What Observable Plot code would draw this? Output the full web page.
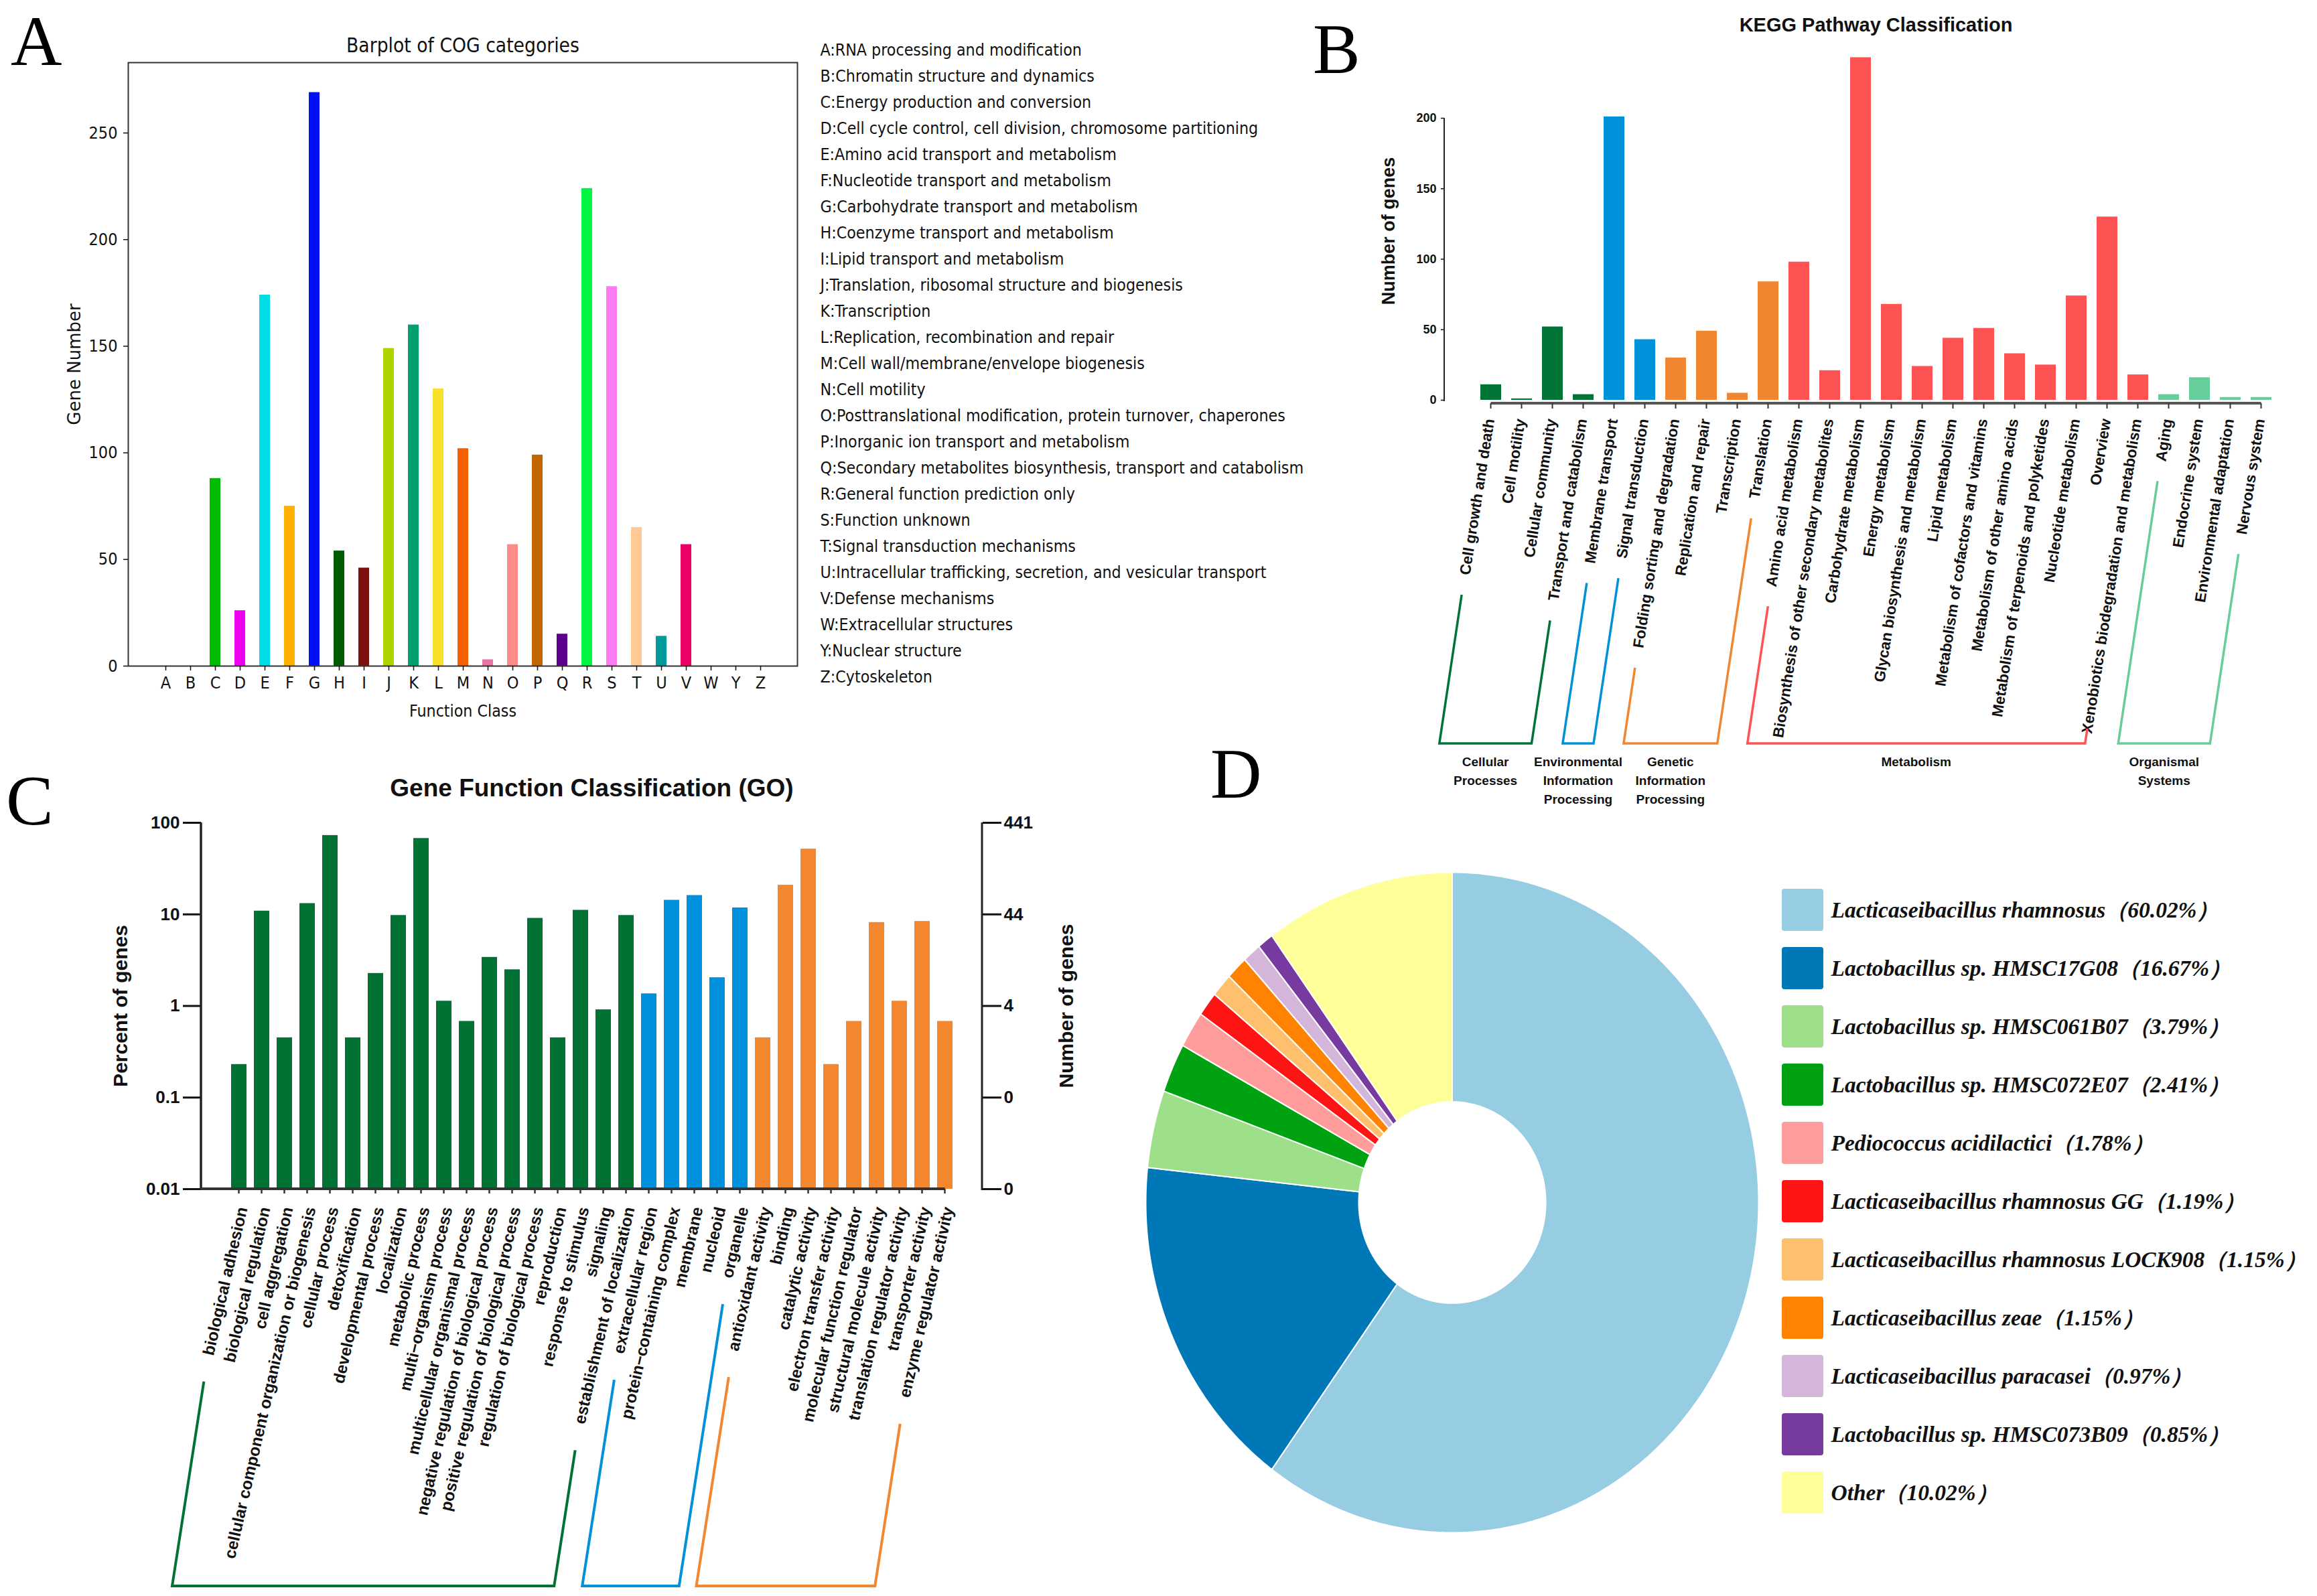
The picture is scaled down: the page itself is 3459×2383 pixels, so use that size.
<!DOCTYPE html>
<html>
<head>
<meta charset="utf-8">
<title>Genome annotation figure</title>
<script src="https://cdn.jsdelivr.net/npm/d3@7"></script>
<script src="https://cdn.jsdelivr.net/npm/@observablehq/plot@0.6"></script>
<style>
  html, body { margin: 0; padding: 0; background: #fff; }
  #root { position: relative; width: 3459px; height: 2383px; overflow: hidden; background: #fff; }
  .panel { position: absolute; }
</style>
</head>
<body>
<div id="root"></div>
<script>
// ================= DATA =================
// Panel A: COG
const cogLetters = ["A","B","C","D","E","F","G","H","I","J","K","L","M","N","O","P","Q","R","S","T","U","V","W","Y","Z"];
const cogCounts  = [0,0,88,26,174,75,269,54,46,149,160,130,102,3,57,99,15,224,178,65,14,57,0,0,0];
const cogColors  = ["#999999","#999999","#00BB00","#EE00EE","#00DDE6","#FFB000","#0010F2","#005E00","#7F1010","#AED400",
                    "#00A070","#F7E02A","#F26000","#E874A8","#FF8A8A","#C46600","#5C0090","#00F544","#FF7AF5","#FFCA94",
                    "#009A9A","#EC0068","#999999","#999999","#999999"];
const cogYTicks  = [0,50,100,150,200,250];
const cogDescriptions = [
  "A:RNA processing and modification",
  "B:Chromatin structure and dynamics",
  "C:Energy production and conversion",
  "D:Cell cycle control, cell division, chromosome partitioning",
  "E:Amino acid transport and metabolism",
  "F:Nucleotide transport and metabolism",
  "G:Carbohydrate transport and metabolism",
  "H:Coenzyme transport and metabolism",
  "I:Lipid transport and metabolism",
  "J:Translation, ribosomal structure and biogenesis",
  "K:Transcription",
  "L:Replication, recombination and repair",
  "M:Cell wall/membrane/envelope biogenesis",
  "N:Cell motility",
  "O:Posttranslational modification, protein turnover, chaperones",
  "P:Inorganic ion transport and metabolism",
  "Q:Secondary metabolites biosynthesis, transport and catabolism",
  "R:General function prediction only",
  "S:Function unknown",
  "T:Signal transduction mechanisms",
  "U:Intracellular trafficking, secretion, and vesicular transport",
  "V:Defense mechanisms",
  "W:Extracellular structures",
  "Y:Nuclear structure",
  "Z:Cytoskeleton"
];

// Panel B: KEGG
const keggPathways = [
  "Cell growth and death","Cell motility","Cellular community","Transport and catabolism",
  "Membrane transport","Signal transduction",
  "Folding sorting and degradation","Replication and repair","Transcription","Translation",
  "Amino acid metabolism","Biosynthesis of other secondary metabolites","Carbohydrate metabolism","Energy metabolism",
  "Glycan biosynthesis and metabolism","Lipid metabolism","Metabolism of cofactors and vitamins","Metabolism of other amino acids",
  "Metabolism of terpenoids and polyketides","Nucleotide metabolism","Overview","Xenobiotics biodegradation and metabolism",
  "Aging","Endocrine system","Environmental adaptation","Nervous system"
];
const keggCounts = [11,1,52,4,201,43,30,49,5,84,98,21,243,68,24,44,51,33,25,74,130,18,4,16,2,2];
const keggGroupNames = ["Cellular Processes","Environmental Information Processing","Genetic Information Processing","Metabolism","Organismal Systems"];
const keggGroupLabels = ["Cellular\nProcesses","Environmental\nInformation\nProcessing","Genetic\nInformation\nProcessing","Metabolism","Organismal\nSystems"];
const keggGroupOf = [0,0,0,0,1,1,2,2,2,2,3,3,3,3,3,3,3,3,3,3,3,3,4,4,4,4].map(i => keggGroupNames[i]);
const keggColors = ["#007437","#0091DB","#F18631","#FF5252","#66CD9B"];
const keggYTicks = [0,50,100,150,200];

// Panel C: GO
const goTerms = [
  "biological adhesion","biological regulation","cell aggregation","cellular component organization or biogenesis",
  "cellular process","detoxification","developmental process","localization","metabolic process",
  "multi\u2212organism process","multicellular organismal process","negative regulation of biological process",
  "positive regulation of biological process","regulation of biological process","reproduction","response to stimulus",
  "signaling","establishment of localization",
  "extracellular region","protein\u2212containing complex","membrane","nucleoid","organelle",
  "antioxidant activity","binding","catalytic activity","electron transfer activity","molecular function regulator",
  "structural molecule activity","translation regulator activity","transporter activity","enzyme regulator activity"
];
const goOntologies = ["biological process","cellular component","molecular function"];
const goOntologyOf = [0,0,0,0,0,0,0,0,0,0,0,0,0,0,0,0,0,0,1,1,1,1,1,2,2,2,2,2,2,2,2,2].map(i => goOntologies[i]);
const goPercent = [0.23,10.88,0.45,13.15,72.79,0.45,2.27,9.75,67.57,1.13,0.68,3.40,2.49,9.07,0.45,11.11,0.91,9.75,
                   1.36,14.29,16.10,2.04,11.79,0.45,20.86,51.70,0.23,0.68,8.16,1.13,8.39,0.68];
const goColors = ["#007334","#0091DC","#F3872F"];
const goLeftTicks = [0.01,0.1,1,10,100];
const goLeftTickLabels = ["0.01","0.1","1","10","100"];
const goRightTickLabels = ["0","0","4","44","441"];

// Panel D: species
const species = [
  "Lacticaseibacillus rhamnosus","Lactobacillus sp. HMSC17G08","Lactobacillus sp. HMSC061B07",
  "Lactobacillus sp. HMSC072E07","Pediococcus acidilactici","Lacticaseibacillus rhamnosus GG",
  "Lacticaseibacillus rhamnosus LOCK908","Lacticaseibacillus zeae","Lacticaseibacillus paracasei",
  "Lactobacillus sp. HMSC073B09","Other"
];
const speciesPercent = [60.02,16.67,3.79,2.41,1.78,1.19,1.15,1.15,0.97,0.85,10.02];
const speciesColors = ["#96CDE3","#0078B8","#9EE08A","#00A212","#FF9C9C","#FF1414","#FFC06E","#FF8200","#D4B6DA","#773A9E","#FFFF99"];

// ================= HELPERS =================
const SANS = "'Liberation Sans', Arial, sans-serif";
const NARROW = "'Liberation Sans Narrow', 'Liberation Sans', Arial, sans-serif";
const DEJAVU = "'DejaVu Sans', sans-serif";
const DEJAVU_C = "'DejaVu Sans Condensed', 'DejaVu Sans', sans-serif";
const SERIF = "'Liberation Serif', 'Times New Roman', serif";
const root = document.getElementById("root");
const MC = document.createElement("canvas").getContext("2d");
function textWidth(text, family, size, weight = "normal", style = "normal") {
  MC.font = `${style} ${weight} ${size}px ${family}`;
  return MC.measureText(text).width;
}
// font size that gives a sample text the width it has in the reference
function fitSize(sample, family, target, weight = "normal", style = "normal") {
  return 100 * target / textWidth(sample, family, 100, weight, style);
}
function svgStyle(font) {
  return `background: transparent; overflow: visible; max-width: none; font-family: ${font}; color: #111;`;
}
function place(node, left, top, width, height) {
  const div = document.createElement("div");
  div.className = "panel";
  div.style.left = left + "px"; div.style.top = top + "px";
  div.style.width = width + "px"; div.style.height = height + "px";
  div.appendChild(node);
  root.appendChild(div);
}
const center = (scale, v) => scale(v) + (typeof scale.bandwidth === "function" ? scale.bandwidth() / 2 : 0);

const aLegendSize = Math.min(26, fitSize(cogDescriptions[16], DEJAVU_C, 722));
const aTitleSize  = Math.min(32, fitSize("Barplot of COG categories", DEJAVU_C, 348));
const aXLabelSize = Math.min(28, fitSize("Function Class", DEJAVU_C, 160));
const aTickSize   = Math.min(28, fitSize("250", DEJAVU_C, 43));
const bLabelSize  = Math.min(29, fitSize(keggPathways[0], NARROW, 236, "bold"));
const cLabelSize  = Math.min(31, fitSize(goTerms[17], NARROW, 332, "bold"));
let dLegendSize   = fitSize(species[0], SERIF, 423, "bold", "italic");
{
  const longest = `${species[6]}\uFF08${speciesPercent[6].toFixed(2)}%\uFF09`;
  const w = textWidth(longest, SERIF, dLegendSize, "bold", "italic");
  if (w > 712) dLegendSize *= 712 / w;
}

// brackets under rotated category labels
function bracketDecor(cfg) {
  return (index, scales, values, dims) => {
    const x = scales.x;
    const y0 = dims.height - dims.marginBottom;
    const ctx = document.createElement("canvas").getContext("2d");
    ctx.font = cfg.labelFont;
    const a = cfg.angle * Math.PI / 180;
    const g = d3.create("svg:g");
    const leg = (name) => {
      const L = ctx.measureText(name).width;
      const sx = center(x, name) + cfg.dx - L * Math.cos(a);
      const sy = y0 + cfg.dy + L * Math.sin(a);
      const ty = Math.min(sy + cfg.gap, cfg.bottom - cfg.minLeg);
      const tx = sx - cfg.slope * (ty - sy);
      const bx = tx - cfg.slope * (cfg.bottom - ty);
      return {top: [tx, ty], bot: [bx, cfg.bottom]};
    };
    cfg.groups.forEach((grp, gi) => {
      const members = cfg.cats.filter((c, i) => cfg.groupOf[i] === grp);
      const l = leg(members[0]), r = leg(members[members.length - 1]);
      g.append("path")
        .attr("d", d3.line()([l.top, l.bot, r.bot, r.top]))
        .attr("fill", "none").attr("stroke", cfg.colors[gi])
        .attr("stroke-width", cfg.strokeWidth).attr("stroke-linejoin", "miter");
      if (cfg.groupLabels) {
        const cxm = (l.bot[0] + r.bot[0]) / 2;
        cfg.groupLabels[gi].split("\n").forEach((line, k) => {
          g.append("text").attr("x", cxm).attr("y", cfg.bottom + cfg.labelOffset + k * cfg.lineGap)
            .attr("dy", "0.35em").attr("text-anchor", "middle")
            .attr("font-family", SANS)
            .attr("font-size", cfg.groupFontSize).attr("font-weight", "bold").attr("fill", "#111")
            .text(line);
        });
      }
    });
    return g.node();
  };
}

// ================= PANEL A =================
const cogData = cogLetters.map((letter, i) => ({letter, count: cogCounts[i]}));
const plotA = Plot.plot({
  width: 1210, height: 1090,
  marginTop: 93, marginRight: 20, marginBottom: 96, marginLeft: 191,
  style: svgStyle(DEJAVU_C),
  x: {type: "band", domain: cogLetters, paddingInner: 0.57, paddingOuter: 1.18, label: null},
  y: {domain: [0, 283], label: null},
  color: {domain: cogLetters, range: cogColors},
  marks: [
    Plot.barY(cogData, {x: "letter", y: "count", fill: "letter"}),
    Plot.frame({stroke: "#333", strokeWidth: 2}),
    Plot.axisY({ticks: cogYTicks, tickSize: 7, tickPadding: 9, fontSize: aTickSize, strokeWidth: 1.5, label: null}),
    Plot.axisX({tickSize: 7, tickPadding: 9, fontSize: aTickSize, strokeWidth: 1.5, label: null}),
    Plot.text(["Barplot of COG categories"], {text: d => d, frameAnchor: "top", dy: -25, fontSize: aTitleSize, textAnchor: "middle", lineAnchor: "middle"}),
    Plot.text(["Function Class"], {text: d => d, frameAnchor: "bottom", dy: 68, fontSize: aXLabelSize, textAnchor: "middle", lineAnchor: "middle"}),
    Plot.text(["Gene Number"], {text: d => d, frameAnchor: "left", dx: -80, rotate: -90, fontFamily: DEJAVU, fontSize: 26, textAnchor: "middle", lineAnchor: "middle"})
  ]
});
place(plotA, 0, 0, 1210, 1090);

const plotALegend = Plot.plot({
  width: 800, height: 1090,
  marginTop: 66, marginRight: 0, marginBottom: 71, marginLeft: 9,
  style: svgStyle(DEJAVU_C),
  y: {type: "point", domain: cogDescriptions, padding: 0, axis: null},
  marks: [
    Plot.text(cogDescriptions, {y: d => d, text: d => d, frameAnchor: "left", textAnchor: "start", lineAnchor: "middle", fontSize: aLegendSize, fill: "#111"})
  ]
});
place(plotALegend, 1215, 0, 800, 1090);

// ================= PANEL B =================
const keggData = keggPathways.map((pathway, i) => ({pathway, count: keggCounts[i], group: keggGroupOf[i]}));
const keggLabelFont = `bold ${bLabelSize}px ${NARROW}`;
const keggDecor = (index, scales, values, dims) => {
  const {x, y} = scales;
  const g = d3.create("svg:g");
  const left = dims.marginLeft;
  g.append("line").attr("x1", left).attr("x2", left).attr("y1", y(0) + 2).attr("y2", y(keggYTicks[keggYTicks.length - 1]))
    .attr("stroke", "#222").attr("stroke-width", 2);
  const xa = y(0) + 5;
  const c0 = center(x, keggPathways[0]), c1 = center(x, keggPathways[keggPathways.length - 1]);
  g.append("line").attr("x1", c0).attr("x2", c1).attr("y1", xa).attr("y2", xa).attr("stroke", "#555").attr("stroke-width", 4);
  keggPathways.forEach(p => {
    const cx = center(x, p);
    g.append("line").attr("x1", cx).attr("x2", cx).attr("y1", xa).attr("y2", xa + 8).attr("stroke", "#333").attr("stroke-width", 2);
  });
  return g.node();
};
const plotB = Plot.plot({
  width: 1499, height: 1200,
  marginTop: 176, marginRight: 15, marginBottom: 603, marginLeft: 196,
  style: svgStyle(SANS),
  x: {type: "band", domain: keggPathways, paddingInner: 0.33, paddingOuter: 1.069, axis: null},
  y: {domain: [0, 200], label: null},
  color: {domain: keggGroupNames, range: keggColors},
  marks: [
    Plot.barY(keggData, {x: "pathway", y: "count", fill: "group"}),
    Plot.axisY({ticks: keggYTicks, tickSize: 5, tickPadding: 7, fontSize: 18, fontWeight: "bold", strokeWidth: 1.5, label: null}),
    keggDecor,
    Plot.text(keggData, {x: "pathway", text: "pathway", frameAnchor: "bottom", dy: 28, dx: -2, rotate: -81,
      textAnchor: "end", lineAnchor: "middle", fontFamily: NARROW, fontSize: bLabelSize, fontWeight: "bold", fill: "#111"}),
    bracketDecor({cats: keggPathways, groupOf: keggGroupOf, groups: keggGroupNames, colors: keggColors,
      groupLabels: keggGroupLabels, labelFont: keggLabelFont, angle: 81, dx: -2, dy: 28,
      gap: 30, slope: 0.15, bottom: 1110, minLeg: 22, strokeWidth: 3.5,
      labelOffset: 27, lineGap: 28, groupFontSize: 19}),
    Plot.text(["KEGG Pathway Classification"], {text: d => d, frameAnchor: "top", dy: -139, fontSize: 29, fontWeight: "bold", textAnchor: "middle", lineAnchor: "middle"}),
    Plot.text(["Number of genes"], {text: d => d, frameAnchor: "left", dx: -83, dy: -42, rotate: -90, fontSize: 27, fontWeight: "bold", textAnchor: "middle", lineAnchor: "middle"})
  ]
});
place(plotB, 1960, 0, 1499, 1200);

// ================= PANEL C =================
const goData = goTerms.map((term, i) => ({term, pct: goPercent[i], ontology: goOntologyOf[i]}));
const goAxisMin = goLeftTicks[0];
const goLabelFont = `bold ${cLabelSize}px ${NARROW}`;
const goDecor = (index, scales, values, dims) => {
  const {x, y} = scales;
  const g = d3.create("svg:g");
  const left = dims.marginLeft, right = dims.width - dims.marginRight;
  const top = y(goLeftTicks[goLeftTicks.length - 1]), base = y(goAxisMin);
  g.append("line").attr("x1", left).attr("x2", left).attr("y1", top).attr("y2", base + 2).attr("stroke", "#222").attr("stroke-width", 3.5);
  g.append("line").attr("x1", right).attr("x2", right).attr("y1", top).attr("y2", base + 2).attr("stroke", "#222").attr("stroke-width", 3);
  const cLast = center(x, goTerms[goTerms.length - 1]);
  g.append("line").attr("x1", left).attr("x2", cLast).attr("y1", base).attr("y2", base).attr("stroke", "#333").attr("stroke-width", 4);
  goTerms.forEach(t => {
    const cx = center(x, t);
    g.append("line").attr("x1", cx).attr("x2", cx).attr("y1", base).attr("y2", base + 7).attr("stroke", "#333").attr("stroke-width", 2.5);
  });
  return g.node();
};
const plotC = Plot.plot({
  width: 1700, height: 1263,
  marginTop: 108, marginRight: 234, marginBottom: 608, marginLeft: 300,
  style: svgStyle(SANS),
  x: {type: "band", domain: goTerms, paddingInner: 0.326, paddingOuter: 1.245, axis: null},
  y: {type: "log", domain: [goAxisMin, 100], label: null},
  color: {domain: goOntologies, range: goColors},
  marks: [
    Plot.barY(goData, {x: "term", y1: goAxisMin, y2: "pct", fill: "ontology"}),
    Plot.axisY({anchor: "left", ticks: goLeftTicks, tickFormat: d => goLeftTickLabels[goLeftTicks.indexOf(d)],
      tickSize: 27, tickPadding: 5, strokeWidth: 3, fontSize: 26, fontWeight: "bold", label: null}),
    Plot.axisY({anchor: "right", ticks: goLeftTicks, tickFormat: d => goRightTickLabels[goLeftTicks.indexOf(d)],
      tickSize: 28, tickPadding: 4, strokeWidth: 3, fontSize: 26, fontWeight: "bold", label: null}),
    goDecor,
    Plot.text(goData, {x: "term", text: "term", frameAnchor: "bottom", dy: 27, dx: 5, rotate: -77,
      textAnchor: "end", lineAnchor: "middle", fontFamily: NARROW, fontSize: cLabelSize, fontWeight: "bold", fill: "#111"}),
    bracketDecor({cats: goTerms, groupOf: goOntologyOf, groups: goOntologies, colors: goColors,
      groupLabels: null, labelFont: goLabelFont, angle: 77, dx: 5, dy: 27,
      gap: 40, slope: 0.155, bottom: 1248, minLeg: 22, strokeWidth: 4}),
    Plot.text(["Gene Function Classification (GO)"], {text: d => d, frameAnchor: "top", dy: -51, fontSize: 37, fontWeight: "bold", textAnchor: "middle", lineAnchor: "middle"}),
    Plot.text(["Percent of genes"], {text: d => d, frameAnchor: "left", dx: -120, rotate: -90, fontSize: 30, fontWeight: "bold", textAnchor: "middle", lineAnchor: "middle"}),
    Plot.text(["Number of genes"], {text: d => d, frameAnchor: "right", dx: 126, rotate: -90, fontSize: 30, fontWeight: "bold", textAnchor: "middle", lineAnchor: "middle"})
  ]
});
place(plotC, 0, 1120, 1700, 1263);

// ================= PANEL D =================
const donutInner = 0.305;
const pieData = [];
{
  let acc = 0;
  species.forEach((name, i) => {
    const f0 = acc / 100, f1 = (acc + speciesPercent[i]) / 100;
    acc += speciesPercent[i];
    const n = Math.max(4, Math.ceil((f1 - f0) * 720));
    for (let k = 0; k <= n; k++) {
      const t = 2 * Math.PI * (f0 + (f1 - f0) * k / n);
      pieData.push({name, x: Math.sin(t), y: Math.cos(t)});
    }
    for (let k = n; k >= 0; k--) {
      const t = 2 * Math.PI * (f0 + (f1 - f0) * k / n);
      pieData.push({name, x: donutInner * Math.sin(t), y: donutInner * Math.cos(t)});
    }
  });
}
const plotD = Plot.plot({
  width: 1000, height: 1040,
  marginTop: 22, marginRight: 75, marginBottom: 32, marginLeft: 10,
  style: svgStyle(SANS),
  x: {domain: [-1, 1], axis: null},
  y: {domain: [-1, 1], axis: null},
  color: {domain: species, range: speciesColors},
  marks: [
    Plot.line(pieData, {x: "x", y: "y", z: "name", fill: "name", stroke: "#ffffff", strokeWidth: 2, curve: "linear-closed"})
  ]
});
place(plotD, 1700, 1280, 1000, 1040);

const plotDLegend = Plot.plot({
  width: 859, height: 1020,
  marginTop: 42, marginRight: 737, marginBottom: 36, marginLeft: 60,
  style: svgStyle(SERIF),
  x: {type: "band", domain: ["swatch"], padding: 0, axis: null},
  y: {type: "band", domain: species, paddingInner: 0.28, paddingOuter: 0, axis: null},
  color: {domain: species, range: speciesColors},
  marks: [
    Plot.cell(species, {x: () => "swatch", y: d => d, fill: d => d, rx: 4}),
    Plot.text(species, {y: d => d, text: (d, i) => `${d}\uFF08${speciesPercent[i].toFixed(2)}%\uFF09`,
      frameAnchor: "right", dx: 11, textAnchor: "start", lineAnchor: "middle",
      fontFamily: SERIF, fontWeight: "bold", fontStyle: "italic", fontSize: dLegendSize, fill: "#111"})
  ]
});
place(plotDLegend, 2600, 1280, 859, 1020);

// ================= PANEL LETTERS =================
const overlay = d3.select(root).append("svg")
  .attr("width", 3459).attr("height", 2383)
  .style("position", "absolute").style("left", "0px").style("top", "0px").style("pointer-events", "none");
const letterSpots = [["A", 16, 97], ["B", 1960, 109], ["C", 9, 1231], ["D", 1807, 1191]];
letterSpots.forEach(([t, lx, ly]) => {
  overlay.append("text").attr("x", lx).attr("y", ly).attr("font-family", SERIF).attr("font-size", 106).attr("fill", "#000").text(t);
});
</script>
</body>
</html>
